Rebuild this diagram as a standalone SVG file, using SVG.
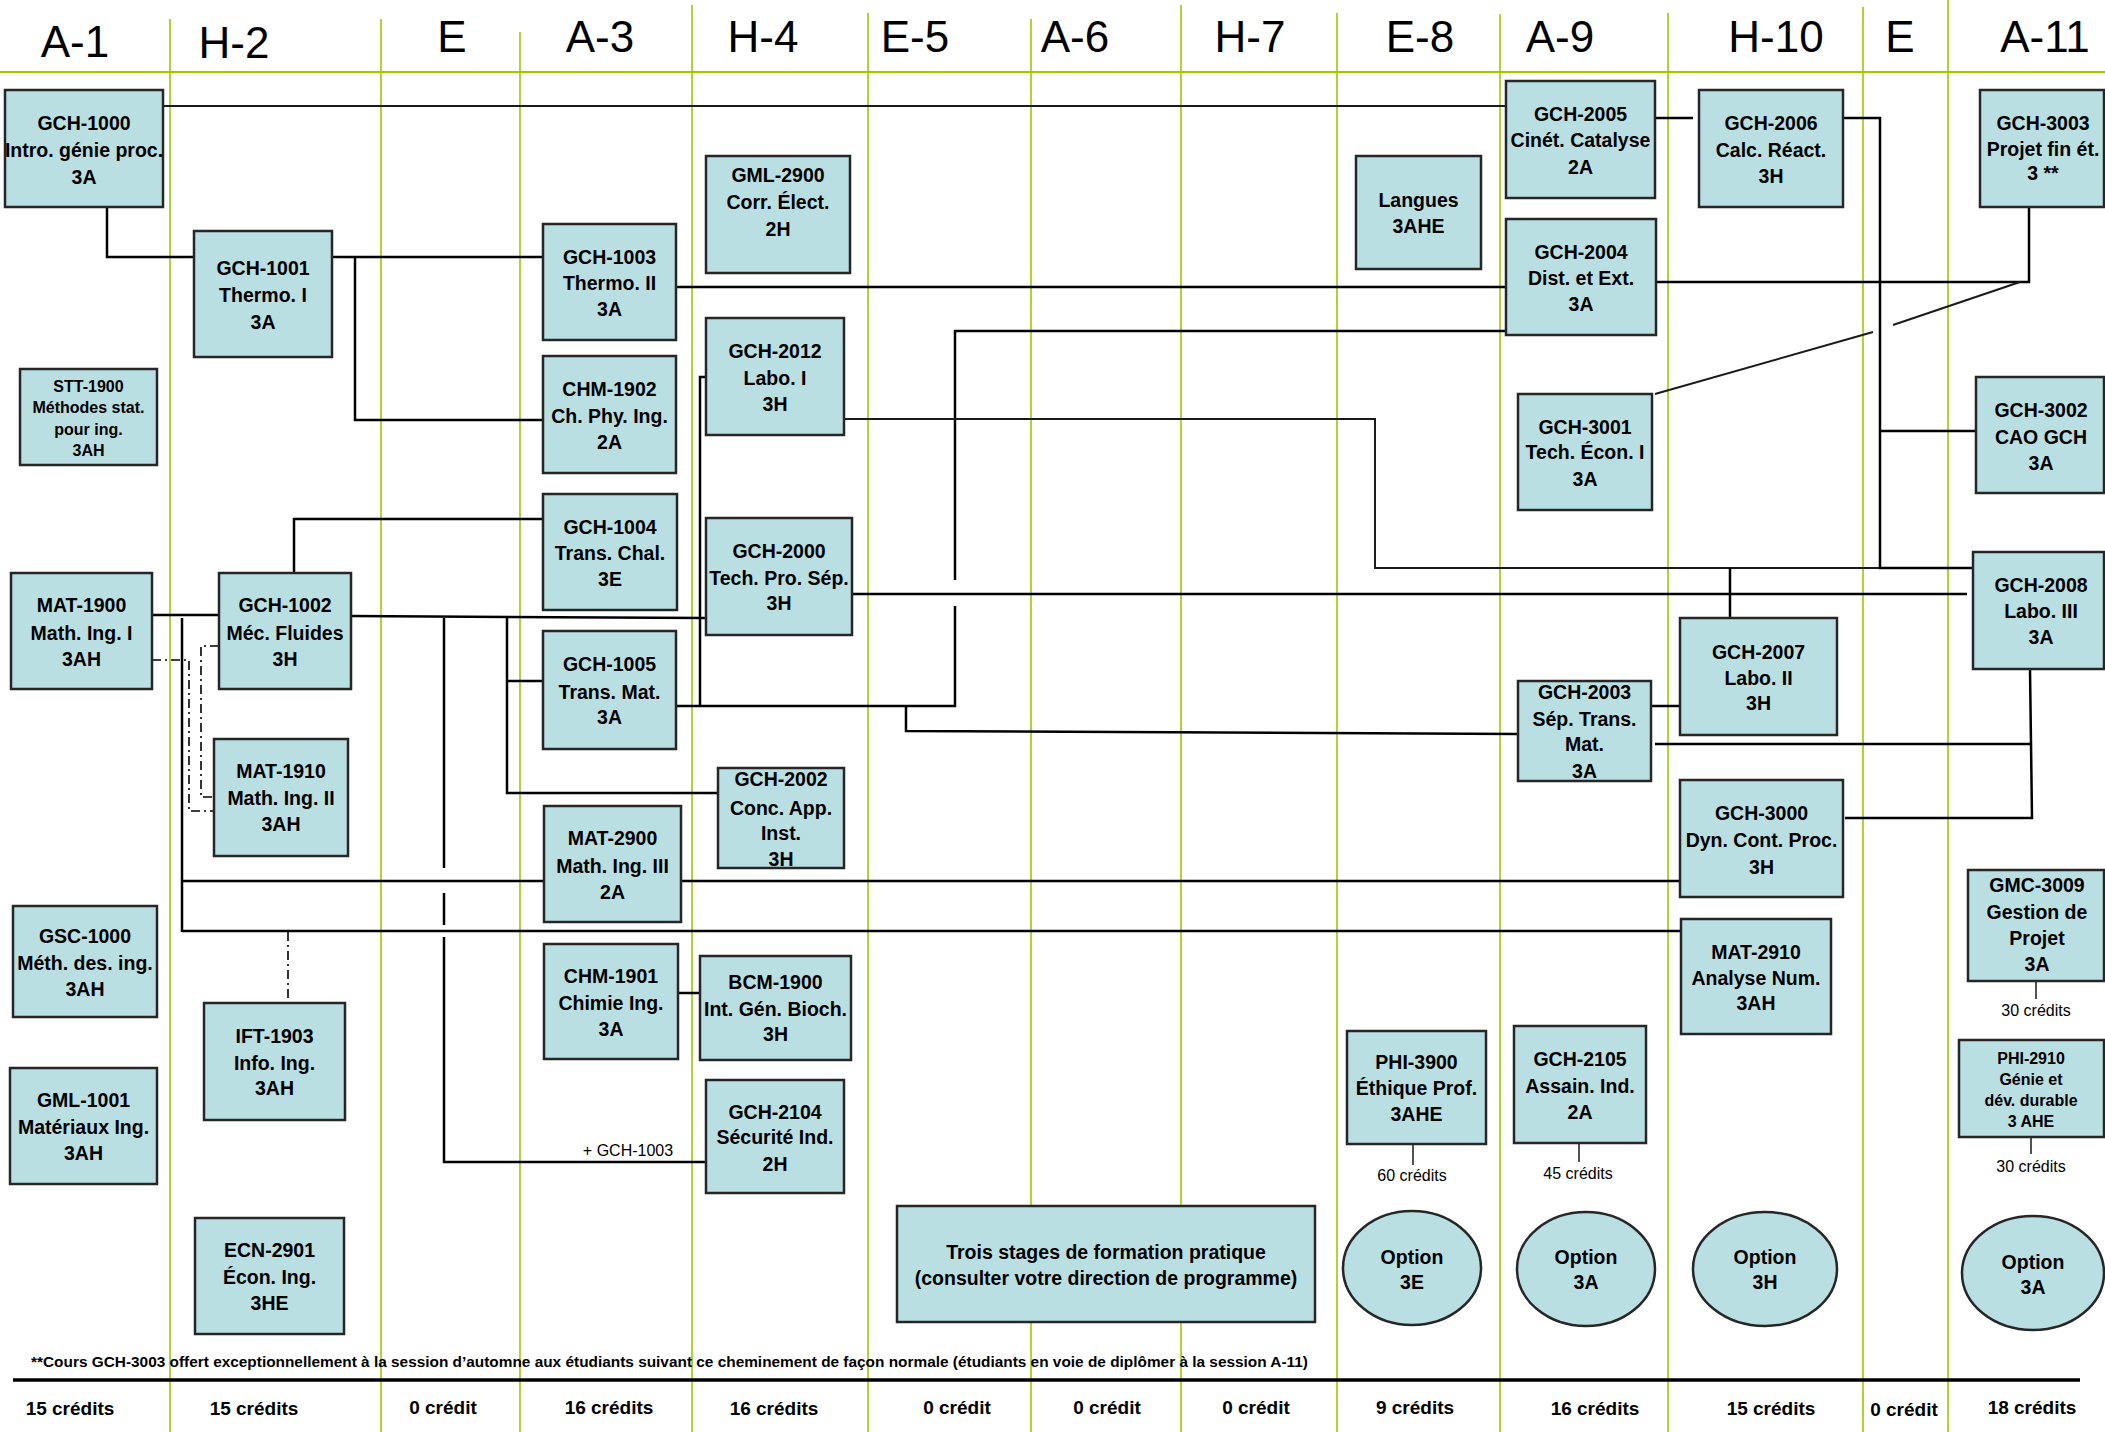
<svg xmlns="http://www.w3.org/2000/svg" width="2105" height="1432" viewBox="0 0 2105 1432">
<style>
.box{fill:#b9dfe3;stroke:#262626;stroke-width:2.5}
.t{font-family:"Liberation Sans",Arial,sans-serif;font-weight:bold;font-size:19.5px;text-anchor:middle;fill:#000}
.s{font-size:16px}
.hdr{font-family:"Liberation Sans",Arial,sans-serif;font-size:44px;text-anchor:middle;fill:#000}
.cr{font-family:"Liberation Sans",Arial,sans-serif;font-weight:bold;font-size:19px;text-anchor:middle;fill:#000}
.lbl{font-family:"Liberation Sans",Arial,sans-serif;font-size:16px;text-anchor:middle;fill:#000}
.c{fill:none;stroke:#000;stroke-width:2.5}
.thin{fill:none;stroke:#1a1a1a;stroke-width:2}
.dd{fill:none;stroke:#000;stroke-width:1.6;stroke-dasharray:9 4 2 4}
.g{stroke:#99cc00;stroke-width:1.6;fill:none}
</style>
<rect x="0" y="0" width="2105" height="1432" fill="#fff"/>

<g id="grid">
<line class="g" x1="0" y1="72" x2="2105" y2="72" style="stroke-width:2.2"/>
<line class="g" x1="170" y1="19" x2="170" y2="1432"/>
<line class="g" x1="381" y1="19" x2="381" y2="1432"/>
<line class="g" x1="520" y1="32" x2="520" y2="1432"/>
<line class="g" x1="692" y1="5" x2="692" y2="1432"/>
<line class="g" x1="868" y1="13" x2="868" y2="1432"/>
<line class="g" x1="1031" y1="19" x2="1031" y2="1432"/>
<line class="g" x1="1181" y1="5" x2="1181" y2="1432"/>
<line class="g" x1="1337" y1="13" x2="1337" y2="1432"/>
<line class="g" x1="1500" y1="14" x2="1500" y2="1432"/>
<line class="g" x1="1668" y1="13" x2="1668" y2="1432"/>
<line class="g" x1="1863" y1="7" x2="1863" y2="1432"/>
<line class="g" x1="1948" y1="0" x2="1948" y2="1432"/>
</g>

<g id="headers">
<text class="hdr" x="75" y="57">A-1</text>
<text class="hdr" x="234" y="58">H-2</text>
<text class="hdr" x="452" y="52">E</text>
<text class="hdr" x="600" y="52">A-3</text>
<text class="hdr" x="763" y="52">H-4</text>
<text class="hdr" x="915" y="52">E-5</text>
<text class="hdr" x="1075" y="52">A-6</text>
<text class="hdr" x="1250" y="52">H-7</text>
<text class="hdr" x="1420" y="52">E-8</text>
<text class="hdr" x="1560" y="52">A-9</text>
<text class="hdr" x="1776" y="52">H-10</text>
<text class="hdr" x="1900" y="52">E</text>
<text class="hdr" x="2045" y="52">A-11</text>
</g>

<g id="connectors">
<path class="thin" d="M163,106 H1506"/>
<path class="c" d="M107,207 V257 H194"/>
<path class="c" d="M332,257 H543"/>
<path class="c" d="M355,257 V420 H543"/>
<path class="c" d="M676,287 H1506"/>
<path class="c" d="M152,615 H219"/>
<path class="c" d="M182,618 V932"/>
<path class="c" d="M182,881 H544"/>
<path class="c" d="M681,881 H1680"/>
<path class="c" d="M182,931 H1681"/>
<path class="dd" d="M152,660 H189 V811 H214"/>
<path class="dd" d="M219,646 H201 V797 H214"/>
<path class="dd" d="M288,932 V1003"/>
<path class="c" d="M294,573 V519 H543"/>
<path class="c" d="M351,616 L706,618"/>
<path class="c" d="M507,617 V793 H718"/>
<path class="c" d="M507,681 H543"/>
<path class="c" d="M444,618 V868"/>
<path class="c" d="M444,893 V925"/>
<path class="c" d="M444,937 V1162 H706"/>
<path class="c" d="M676,706 H955 V606"/>
<path class="c" d="M955,580 V331 H1506"/>
<path class="c" d="M906,706 V731 L1518,734"/>
<path class="c" d="M706,377 H700 V706"/>
<path class="c" d="M852,594 H1967"/>
<path class="thin" d="M844,419 H1375 V568 H1880"/>
<path class="c" d="M1730,568 V618"/>
<path class="c" d="M1843,118 H1880 V568 H1973"/>
<path class="c" d="M1880,431 H1976"/>
<path class="c" d="M1655,118 H1693"/>
<path class="c" d="M1656,282 H2029 V207"/>
<path class="thin" d="M1655,394 L1873,332"/>
<path class="thin" d="M1893,325 L2020,282"/>
<path class="c" d="M1651,706 H1680"/>
<path class="c" d="M2030,669 L2032,818 H1845"/>
<path class="c" d="M1655,744 H2031"/>
<path class="c" d="M678,993 H700"/>
<path class="thin" style="stroke-width:1.5" d="M2036,981 V999"/>
<path class="thin" style="stroke-width:1.5" d="M2031,1137 V1154"/>
<path class="thin" style="stroke-width:1.5" d="M1413,1145 V1165"/>
<path class="thin" style="stroke-width:1.5" d="M1579,1143 V1162"/>
<text class="lbl" x="628" y="1156">+ GCH-1003</text>
</g>

<g id="n-gch1000"><rect class="box" x="5" y="90" width="158" height="117"/>
<text class="t" x="84" y="130">GCH-1000</text><text class="t" x="84" y="157">Intro. génie proc.</text><text class="t" x="84" y="184">3A</text></g>
<g id="n-gch1001"><rect class="box" x="194" y="231" width="138" height="126"/>
<text class="t" x="263" y="275">GCH-1001</text><text class="t" x="263" y="302">Thermo. I</text><text class="t" x="263" y="329">3A</text></g>
<g id="n-stt1900"><rect class="box" x="20" y="369" width="137" height="96"/>
<text class="t s" x="88.5" y="392">STT-1900</text><text class="t s" x="88.5" y="413">Méthodes stat.</text><text class="t s" x="88.5" y="435">pour ing.</text><text class="t s" x="88.5" y="456">3AH</text></g>
<g id="n-mat1900"><rect class="box" x="11" y="573" width="141" height="116"/>
<text class="t" x="81.5" y="612">MAT-1900</text><text class="t" x="81.5" y="640">Math. Ing. I</text><text class="t" x="81.5" y="666">3AH</text></g>
<g id="n-gch1002"><rect class="box" x="219" y="573" width="132" height="116"/>
<text class="t" x="285" y="612">GCH-1002</text><text class="t" x="285" y="640">Méc. Fluides</text><text class="t" x="285" y="666">3H</text></g>
<g id="n-mat1910"><rect class="box" x="214" y="739" width="134" height="117"/>
<text class="t" x="281" y="778">MAT-1910</text><text class="t" x="281" y="805">Math. Ing. II</text><text class="t" x="281" y="831">3AH</text></g>
<g id="n-gsc1000"><rect class="box" x="13" y="906" width="144" height="111"/>
<text class="t" x="85" y="943">GSC-1000</text><text class="t" x="85" y="970">Méth. des. ing.</text><text class="t" x="85" y="996">3AH</text></g>
<g id="n-gml1001"><rect class="box" x="10" y="1068" width="147" height="116"/>
<text class="t" x="83.5" y="1107">GML-1001</text><text class="t" x="83.5" y="1134">Matériaux Ing.</text><text class="t" x="83.5" y="1160">3AH</text></g>
<g id="n-ift1903"><rect class="box" x="204" y="1003" width="141" height="117"/>
<text class="t" x="274.5" y="1043">IFT-1903</text><text class="t" x="274.5" y="1070">Info. Ing.</text><text class="t" x="274.5" y="1095">3AH</text></g>
<g id="n-ecn2901"><rect class="box" x="195" y="1218" width="149" height="116"/>
<text class="t" x="269.5" y="1257">ECN-2901</text><text class="t" x="269.5" y="1284">Écon. Ing.</text><text class="t" x="269.5" y="1310">3HE</text></g>
<g id="n-gch1003"><rect class="box" x="543" y="224" width="133" height="116"/>
<text class="t" x="609.5" y="264">GCH-1003</text><text class="t" x="609.5" y="290">Thermo. II</text><text class="t" x="609.5" y="316">3A</text></g>
<g id="n-chm1902"><rect class="box" x="543" y="356" width="133" height="117"/>
<text class="t" x="609.5" y="396">CHM-1902</text><text class="t" x="609.5" y="423">Ch. Phy. Ing.</text><text class="t" x="609.5" y="449">2A</text></g>
<g id="n-gch1004"><rect class="box" x="543" y="494" width="134" height="116"/>
<text class="t" x="610" y="534">GCH-1004</text><text class="t" x="610" y="560">Trans. Chal.</text><text class="t" x="610" y="586">3E</text></g>
<g id="n-gch1005"><rect class="box" x="543" y="631" width="133" height="118"/>
<text class="t" x="609.5" y="671">GCH-1005</text><text class="t" x="609.5" y="699">Trans. Mat.</text><text class="t" x="609.5" y="724">3A</text></g>
<g id="n-mat2900"><rect class="box" x="544" y="806" width="137" height="116"/>
<text class="t" x="612.5" y="845">MAT-2900</text><text class="t" x="612.5" y="873">Math. Ing. III</text><text class="t" x="612.5" y="899">2A</text></g>
<g id="n-chm1901"><rect class="box" x="544" y="944" width="134" height="115"/>
<text class="t" x="611" y="983">CHM-1901</text><text class="t" x="611" y="1010">Chimie Ing.</text><text class="t" x="611" y="1036">3A</text></g>
<g id="n-gml2900"><rect class="box" x="706" y="156" width="144" height="117"/>
<text class="t" x="778" y="182">GML-2900</text><text class="t" x="778" y="209">Corr. Élect.</text><text class="t" x="778" y="236">2H</text></g>
<g id="n-gch2012"><rect class="box" x="706" y="318" width="138" height="117"/>
<text class="t" x="775" y="358">GCH-2012</text><text class="t" x="775" y="385">Labo. I</text><text class="t" x="775" y="411">3H</text></g>
<g id="n-gch2000"><rect class="box" x="706" y="518" width="146" height="117"/>
<text class="t" x="779" y="558">GCH-2000</text><text class="t" x="779" y="585">Tech. Pro. Sép.</text><text class="t" x="779" y="610">3H</text></g>
<g id="n-gch2002"><rect class="box" x="718" y="768" width="126" height="100"/>
<text class="t" x="781" y="786">GCH-2002</text><text class="t" x="781" y="815">Conc. App.</text><text class="t" x="781" y="840">Inst.</text><text class="t" x="781" y="866">3H</text></g>
<g id="n-bcm1900"><rect class="box" x="700" y="956" width="151" height="104"/>
<text class="t" x="775.5" y="989">BCM-1900</text><text class="t" x="775.5" y="1016">Int. Gén. Bioch.</text><text class="t" x="775.5" y="1041">3H</text></g>
<g id="n-gch2104"><rect class="box" x="706" y="1080" width="138" height="113"/>
<text class="t" x="775" y="1119">GCH-2104</text><text class="t" x="775" y="1144">Sécurité Ind.</text><text class="t" x="775" y="1171">2H</text></g>
<g id="n-stages"><rect class="box" x="897" y="1206" width="418" height="116"/>
<text class="t" x="1106" y="1259">Trois stages de formation pratique</text><text class="t" x="1106" y="1285">(consulter votre direction de programme)</text></g>
<g id="n-langues"><rect class="box" x="1356" y="156" width="125" height="113"/>
<text class="t" x="1418.5" y="207">Langues</text><text class="t" x="1418.5" y="233">3AHE</text></g>
<g id="n-phi3900"><rect class="box" x="1347" y="1031" width="139" height="113"/>
<text class="t" x="1416.5" y="1069">PHI-3900</text><text class="t" x="1416.5" y="1095">Éthique Prof.</text><text class="t" x="1416.5" y="1121">3AHE</text></g>
<g id="n-opt-e8"><ellipse class="box" cx="1412" cy="1268" rx="69" ry="57"/>
<text class="t" x="1412" y="1264">Option</text><text class="t" x="1412" y="1289">3E</text></g>
<g id="n-gch2005"><rect class="box" x="1506" y="81" width="149" height="117"/>
<text class="t" x="1580.5" y="121">GCH-2005</text><text class="t" x="1580.5" y="147">Cinét. Catalyse</text><text class="t" x="1580.5" y="174">2A</text></g>
<g id="n-gch2004"><rect class="box" x="1506" y="219" width="150" height="116"/>
<text class="t" x="1581" y="259">GCH-2004</text><text class="t" x="1581" y="285">Dist. et Ext.</text><text class="t" x="1581" y="311">3A</text></g>
<g id="n-gch3001"><rect class="box" x="1518" y="394" width="134" height="116"/>
<text class="t" x="1585" y="434">GCH-3001</text><text class="t" x="1585" y="459">Tech. Écon. I</text><text class="t" x="1585" y="486">3A</text></g>
<g id="n-gch2003"><rect class="box" x="1518" y="681" width="133" height="100"/>
<text class="t" x="1584.5" y="699">GCH-2003</text><text class="t" x="1584.5" y="726">Sép. Trans.</text><text class="t" x="1584.5" y="751">Mat.</text><text class="t" x="1584.5" y="778">3A</text></g>
<g id="n-gch2105"><rect class="box" x="1514" y="1026" width="132" height="117"/>
<text class="t" x="1580" y="1066">GCH-2105</text><text class="t" x="1580" y="1093">Assain. Ind.</text><text class="t" x="1580" y="1119">2A</text></g>
<g id="n-opt-a9"><ellipse class="box" cx="1586" cy="1269" rx="69" ry="57"/>
<text class="t" x="1586" y="1264">Option</text><text class="t" x="1586" y="1289">3A</text></g>
<g id="n-gch2006"><rect class="box" x="1699" y="90" width="144" height="117"/>
<text class="t" x="1771" y="130">GCH-2006</text><text class="t" x="1771" y="157">Calc. Réact.</text><text class="t" x="1771" y="183">3H</text></g>
<g id="n-gch2007"><rect class="box" x="1680" y="618" width="157" height="117"/>
<text class="t" x="1758.5" y="659">GCH-2007</text><text class="t" x="1758.5" y="685">Labo. II</text><text class="t" x="1758.5" y="710">3H</text></g>
<g id="n-gch3000"><rect class="box" x="1680" y="780" width="163" height="117"/>
<text class="t" x="1761.5" y="820">GCH-3000</text><text class="t" x="1761.5" y="847">Dyn. Cont. Proc.</text><text class="t" x="1761.5" y="874">3H</text></g>
<g id="n-mat2910"><rect class="box" x="1681" y="919" width="150" height="115"/>
<text class="t" x="1756" y="959">MAT-2910</text><text class="t" x="1756" y="985">Analyse Num.</text><text class="t" x="1756" y="1010">3AH</text></g>
<g id="n-opt-h10"><ellipse class="box" cx="1765" cy="1269" rx="72" ry="57"/>
<text class="t" x="1765" y="1264">Option</text><text class="t" x="1765" y="1289">3H</text></g>
<g id="n-gch3003"><rect class="box" x="1980" y="90" width="124" height="117"/>
<text class="t" x="2043" y="130">GCH-3003</text><text class="t" x="2043" y="156">Projet fin ét.</text><text class="t" x="2043" y="180">3 **</text></g>
<g id="n-gch3002"><rect class="box" x="1976" y="377" width="128" height="116"/>
<text class="t" x="2041" y="417">GCH-3002</text><text class="t" x="2041" y="444">CAO GCH</text><text class="t" x="2041" y="470">3A</text></g>
<g id="n-gch2008"><rect class="box" x="1973" y="552" width="131" height="117"/>
<text class="t" x="2041" y="592">GCH-2008</text><text class="t" x="2041" y="618">Labo. III</text><text class="t" x="2041" y="644">3A</text></g>
<g id="n-gmc3009"><rect class="box" x="1968" y="870" width="136" height="111"/>
<text class="t" x="2037" y="892">GMC-3009</text><text class="t" x="2037" y="919">Gestion de</text><text class="t" x="2037" y="945">Projet</text><text class="t" x="2037" y="971">3A</text></g>
<g id="n-phi2910"><rect class="box" x="1959" y="1040" width="145" height="97"/>
<text class="t s" x="2031" y="1064">PHI-2910</text><text class="t s" x="2031" y="1085">Génie et</text><text class="t s" x="2031" y="1106">dév. durable</text><text class="t s" x="2031" y="1127">3 AHE</text></g>
<g id="n-opt-a11"><ellipse class="box" cx="2033" cy="1273" rx="71" ry="57"/>
<text class="t" x="2033" y="1269">Option</text><text class="t" x="2033" y="1294">3A</text></g>

<g id="credit-labels">
<text class="lbl" x="2036" y="1016">30 crédits</text>
<text class="lbl" x="2031" y="1172">30 crédits</text>
<text class="lbl" x="1412" y="1181">60 crédits</text>
<text class="lbl" x="1578" y="1179">45 crédits</text>
</g>

<g id="footer">
<text x="31" y="1367" textLength="1277" lengthAdjust="spacingAndGlyphs" style="font-family:'Liberation Sans',Arial,sans-serif;font-weight:bold;font-size:15px;fill:#000">**Cours GCH-3003 offert exceptionnellement à la session d’automne aux étudiants suivant ce cheminement de façon normale (étudiants en voie de diplômer à la session A-11)</text>
<line x1="13" y1="1380" x2="2080" y2="1380" stroke="#000" stroke-width="3.5"/>
<text class="cr" x="70" y="1415">15 crédits</text>
<text class="cr" x="254" y="1415">15 crédits</text>
<text class="cr" x="443" y="1414">0 crédit</text>
<text class="cr" x="609" y="1414">16 crédits</text>
<text class="cr" x="774" y="1415">16 crédits</text>
<text class="cr" x="957" y="1414">0 crédit</text>
<text class="cr" x="1107" y="1414">0 crédit</text>
<text class="cr" x="1256" y="1414">0 crédit</text>
<text class="cr" x="1415" y="1414">9 crédits</text>
<text class="cr" x="1595" y="1415">16 crédits</text>
<text class="cr" x="1771" y="1415">15 crédits</text>
<text class="cr" x="1904" y="1416">0 crédit</text>
<text class="cr" x="2032" y="1414">18 crédits</text>
</g>
</svg>
